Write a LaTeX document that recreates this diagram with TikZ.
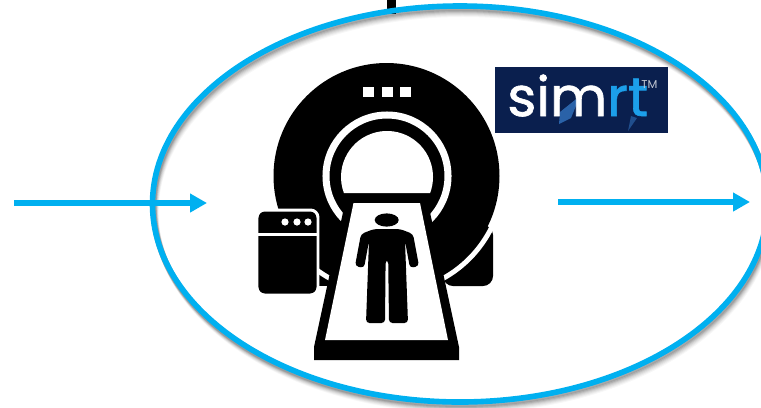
\documentclass[tikz,border=0pt]{standalone}
\usepackage{fontspec}
\usetikzlibrary{arrows.meta}
\newfontfamily\logofont[FakeBold=1.2]{Poppins}
\newfontfamily\smalllogofont{Poppins}
\definecolor{ringblue}{HTML}{00B0F0}
\definecolor{logonavy}{HTML}{0A1F4E}
\definecolor{logoblue}{HTML}{1C9FEA}
\definecolor{shardblue}{HTML}{2A62A8}
\tikzset{
  >={Triangle[length=3.4mm,width=3.6mm]},
  flow/.style={->, draw=ringblue, line width=3pt},
  ringline/.style={draw=ringblue, line width=3.2pt},
  shadowline/.style={draw=black, line width=3.4pt},
  icon/.style={fill=black, draw=none},
  gap/.style={draw=white, line width=#1},
  logotext/.style={font=\logofont\fontsize{31}{31}\selectfont, inner sep=0pt, text=white},
}

\begin{document}
\begin{tikzpicture}[x=0.02cm,y=-0.02cm]
\useasboundingbox (0,0) rectangle (761,407);
\clip (0,0) rectangle (761,407);

% -----------------------------------------------------------------------------
% Stub above the ring
% -----------------------------------------------------------------------------
\fill[icon] (387,0) rectangle (395.5,14);

% -----------------------------------------------------------------------------
% Ring with soft shadow
% -----------------------------------------------------------------------------
\foreach \s/\o in {8/0.03,7/0.04,6/0.05,5/0.06,4/0.08,3/0.10,2/0.12}{
  \draw[shadowline, opacity=\o] (460+\s*0.4,204+\s) ellipse[x radius=307.5, y radius=198];
}
\draw[ringline] (460,204) ellipse[x radius=307.5, y radius=198];

% -----------------------------------------------------------------------------
% Scanner
% -----------------------------------------------------------------------------
% foot and gantry
\fill[icon, rounded corners=2mm] (443,225) -- (493,225) -- (493,286) -- (443,286) -- cycle;
\fill[icon] (290,225) rectangle (330,286);
\fill[icon] (386.5,176) circle (113);
\draw[gap=2.8pt] (386.5,176) ++(26:117) arc[start angle=26, end angle=64, radius=117];
\draw[gap=2.8pt] (386.5,176) ++(116:117) arc[start angle=116, end angle=135, radius=117];

% bore
\draw[gap=4pt] (387,176) circle (61);
\fill[white] (343.9,193) arc[start angle=159.6, end angle=380.4, radius=46] -- cycle;

% status lights
\foreach \x in {363,382,400}{\fill[white] (\x,87) rectangle ++(10.5,10);}

% console
\filldraw[icon, draw=white, line width=1.7pt, rounded corners=1.5mm] (257,210) rectangle (318,295);
\draw[gap=1.7pt] (257,234) -- (318,234);
\foreach \x in {285,297,308}{\fill[white] (\x,222) circle (3.6);}

% table
\fill[icon] (345,203) -- (428,203) -- (459,347) -- (459,360) -- (314,360) -- (314,347) -- cycle;
\fill[white] (353.5,203) -- (420,203) -- (448,340) -- (325,340) -- cycle;

% patient
\fill[icon] (386.7,220) ellipse[x radius=12, y radius=6.6];
\fill[icon, rounded corners=0.7mm]
  (374,229) -- (400,229) -- (413,234) -- (419,266) -- (410,268) -- (405,241)
  -- (408,323) -- (389,323) -- (388.2,260) -- (385.6,260) -- (385,323) -- (366,323)
  -- (369,241) -- (364,268) -- (355,266) -- (361,234) -- cycle;

% -----------------------------------------------------------------------------
% Logo
% -----------------------------------------------------------------------------
\fill[logonavy] (495,67) rectangle (668,133);
\fill[shardblue] (560,112) -- (580,96) -- (571,118) -- (559,124) -- cycle;
\fill[shardblue!70!logonavy] (631,116) -- (637,118) -- (628,131) -- cycle;
\node[logotext, anchor=base west, xscale=1.02] (simrt) at (507,116) {sim\textcolor{logoblue}{rt}};
\node[anchor=base west, inner sep=0pt, text=white!75!logonavy, font=\smalllogofont\fontsize{6.5}{6.5}\selectfont] (tm) at (641,88) {TM};

% -----------------------------------------------------------------------------
% Flows
% -----------------------------------------------------------------------------
\coordinate (in0) at (14,203);
\coordinate (in1) at (207,203);
\coordinate (out0) at (558,202);
\coordinate (out1) at (750,202);
\draw[flow] (in0) -- (in1);
\draw[flow] (out0) -- (out1);

\end{tikzpicture}
\end{document}
